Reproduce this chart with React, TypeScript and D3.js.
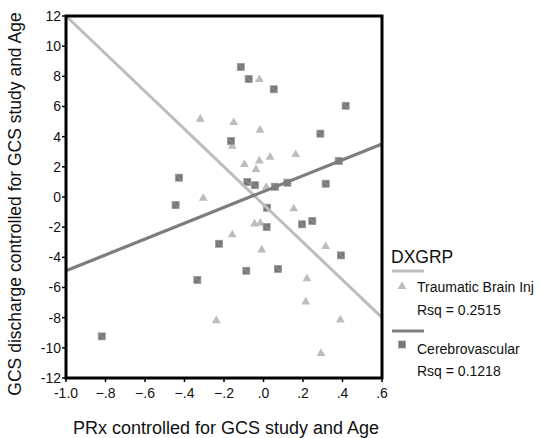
import React, { useRef, useEffect } from 'react';
import * as d3 from 'd3';

// Traumatic Brain Inj (triangles)
const tbiX = [-0.021, -0.32, -0.151, -0.018, -0.158, 0.163, 0.033, -0.021, -0.097, -0.038, 0.014, -0.305,
  0.153, -0.045, -0.016, -0.158, -0.009, 0.315, 0.22, 0.214, -0.239, 0.389, 0.291];
const tbiY = [7.82, 5.19, 4.97, 4.46, 3.4, 2.85, 2.67, 2.43, 2.19, 1.86, 0.68, -0.05,
  -0.75, -1.75, -1.7, -2.47, -3.47, -3.25, -5.39, -6.92, -8.16, -8.11, -10.34];

// Cerebrovascular (squares)
const cvX = [-0.115, -0.075, 0.052, 0.416, 0.288, -0.165, -0.428, -0.082, -0.043, 0.058, 0.121, 0.381, 0.315,
  -0.445, 0.018, 0.016, 0.195, 0.247, -0.225, 0.392, -0.087, 0.073, -0.335, -0.819];
const cvY = [8.62, 7.82, 7.14, 6.05, 4.2, 3.71, 1.28, 0.99, 0.78, 0.68, 0.95, 2.39, 0.88,
  -0.53, -0.71, -1.99, -1.81, -1.59, -3.1, -3.87, -4.89, -4.77, -5.5, -9.24];

// linear fits: [intercept, slope]
const tbiFit = [-0.5, -12.5];
const cvFit = [0.36, 5.25];

const xTicks = [-1.0, -0.8, -0.6, -0.4, -0.2, 0, 0.2, 0.4, 0.6];
const yTicks = [12, 10, 8, 6, 4, 2, 0, -2, -4, -6, -8, -10, -12];

const legendTitle = "DXGRP";
const tbiLabel = "Traumatic Brain Inj";
const tbiRsq = "Rsq = 0.2515";
const cvLabel = "Cerebrovascular";
const cvRsq = "Rsq = 0.1218";

const fmtX = (d: number) => {
  if (d === -1) return "-1.0";
  const s = d3.format(".1f")(d);
  return s.replace("0.", ".");
};

const App = () => {
  const svgRef = useRef<SVGSVGElement>(null);
  const width = 540;
  const height = 438;

  useEffect(() => {
    const svg = d3.select(svgRef.current);
    svg.selectAll("*").remove();

    const left = 66, right = 382, top = 16, bottom = 378;
    const font = "Arial, 'Liberation Sans', sans-serif";

    const x = d3.scaleLinear().domain([-1.0, 0.6]).range([left, right]);
    const y = d3.scaleLinear().domain([-12, 12]).range([bottom, top]);

    svg.append("rect").attr("width", width).attr("height", height).attr("fill", "white");

    // y ticks
    svg.append("g").selectAll("line")
      .data(yTicks).enter().append("line")
      .attr("x1", left - 4).attr("x2", left)
      .attr("y1", d => y(d)).attr("y2", d => y(d))
      .attr("stroke", "#000").attr("stroke-width", 1.5);
    svg.append("g").selectAll("text")
      .data(yTicks).enter().append("text")
      .attr("x", left - 5).attr("y", d => y(d))
      .attr("dy", "0.35em")
      .attr("text-anchor", "end")
      .style("font-family", font).style("font-size", "14px").attr("fill", "#111")
      .text(d => String(d));

    // x ticks
    svg.append("g").selectAll("line")
      .data(xTicks).enter().append("line")
      .attr("x1", d => x(d)).attr("x2", d => x(d))
      .attr("y1", bottom).attr("y2", bottom + 4)
      .attr("stroke", "#000").attr("stroke-width", 1.5);
    svg.append("g").selectAll("text")
      .data(xTicks).enter().append("text")
      .attr("x", d => x(d)).attr("y", bottom + 20)
      .attr("text-anchor", "middle")
      .style("font-family", font).style("font-size", "14px").attr("fill", "#111")
      .text(d => fmtX(d));

    // triangles
    const tri = d3.symbol().type(d3.symbolTriangle).size(34);
    svg.append("g").selectAll("path")
      .data(tbiX.map((v, i) => [v, tbiY[i]]))
      .enter().append("path")
      .attr("d", tri)
      .attr("transform", d => `translate(${x(d[0])},${y(d[1]) + 0.5})`)
      .attr("fill", "#bdbdbd");

    // squares
    const sq = svg.append("g").selectAll("g")
      .data(cvX.map((v, i) => [v, cvY[i]]))
      .enter().append("g")
      .attr("transform", d => `translate(${x(d[0])},${y(d[1])})`);
    sq.append("rect")
      .attr("x", -3.5).attr("y", -3.5).attr("width", 7).attr("height", 7)
      .attr("fill", "#777").attr("stroke", "#999").attr("stroke-width", 0.8);
    sq.append("line")
      .attr("x1", -2.5).attr("y1", -2.5).attr("x2", 2.5).attr("y2", 2.5)
      .attr("stroke", "#aaa").attr("stroke-width", 0.7);

    // fit lines
    const fitLine = (fit: number[]) => d3.line<number>()
      .x(d => x(d))
      .y(d => y(fit[0] + fit[1] * d))([-1.0, 0.6]);
    svg.append("path").attr("d", fitLine(tbiFit))
      .attr("fill", "none").attr("stroke", "#bdbdbd").attr("stroke-width", 3);
    svg.append("path").attr("d", fitLine(cvFit))
      .attr("fill", "none").attr("stroke", "#7d7d7d").attr("stroke-width", 3.2);

    // frame
    svg.append("rect")
      .attr("x", left).attr("y", top)
      .attr("width", right - left).attr("height", bottom - top)
      .attr("fill", "none").attr("stroke", "#000").attr("stroke-width", 3);

    // axis titles
    svg.append("text")
      .attr("x", 226).attr("y", 434)
      .attr("text-anchor", "middle")
      .style("font-family", font).style("font-size", "18px").attr("fill", "#111")
      .text("PRx controlled for GCS study and Age");
    svg.append("text")
      .attr("transform", `translate(21,204) rotate(-90)`)
      .attr("text-anchor", "middle")
      .style("font-family", font).style("font-size", "17.5px").attr("fill", "#111")
      .text("GCS discharge controlled for GCS study and Age");

    // legend
    const lg = svg.append("g");
    lg.append("text").attr("x", 391).attr("y", 263)
      .style("font-family", font).style("font-size", "17.5px").attr("fill", "#111")
      .text(legendTitle);
    lg.append("line").attr("x1", 392).attr("x2", 424).attr("y1", 271).attr("y2", 271)
      .attr("stroke", "#bdbdbd").attr("stroke-width", 3);
    lg.append("path").attr("d", tri)
      .attr("transform", "translate(402,286.5)").attr("fill", "#bdbdbd");
    lg.append("text").attr("x", 417).attr("y", 292)
      .style("font-family", font).style("font-size", "14px").attr("fill", "#111")
      .text(tbiLabel);
    lg.append("text").attr("x", 417).attr("y", 315)
      .style("font-family", font).style("font-size", "14px").attr("fill", "#111")
      .text(tbiRsq);
    lg.append("line").attr("x1", 392).attr("x2", 424).attr("y1", 331).attr("y2", 331)
      .attr("stroke", "#7d7d7d").attr("stroke-width", 3);
    lg.append("rect").attr("x", 398.5).attr("y", 341).attr("width", 7).attr("height", 7)
      .attr("fill", "#777").attr("stroke", "#999").attr("stroke-width", 0.8);
    lg.append("text").attr("x", 417).attr("y", 354)
      .style("font-family", font).style("font-size", "14px").attr("fill", "#111")
      .text(cvLabel);
    lg.append("text").attr("x", 417).attr("y", 376)
      .style("font-family", font).style("font-size", "14px").attr("fill", "#111")
      .text(cvRsq);
  }, []);

  return (
    <svg ref={svgRef} width={width} height={height}
      style={{ position: 'absolute', left: 0, top: 0, display: 'block' }} />
  );
};

export default App;
